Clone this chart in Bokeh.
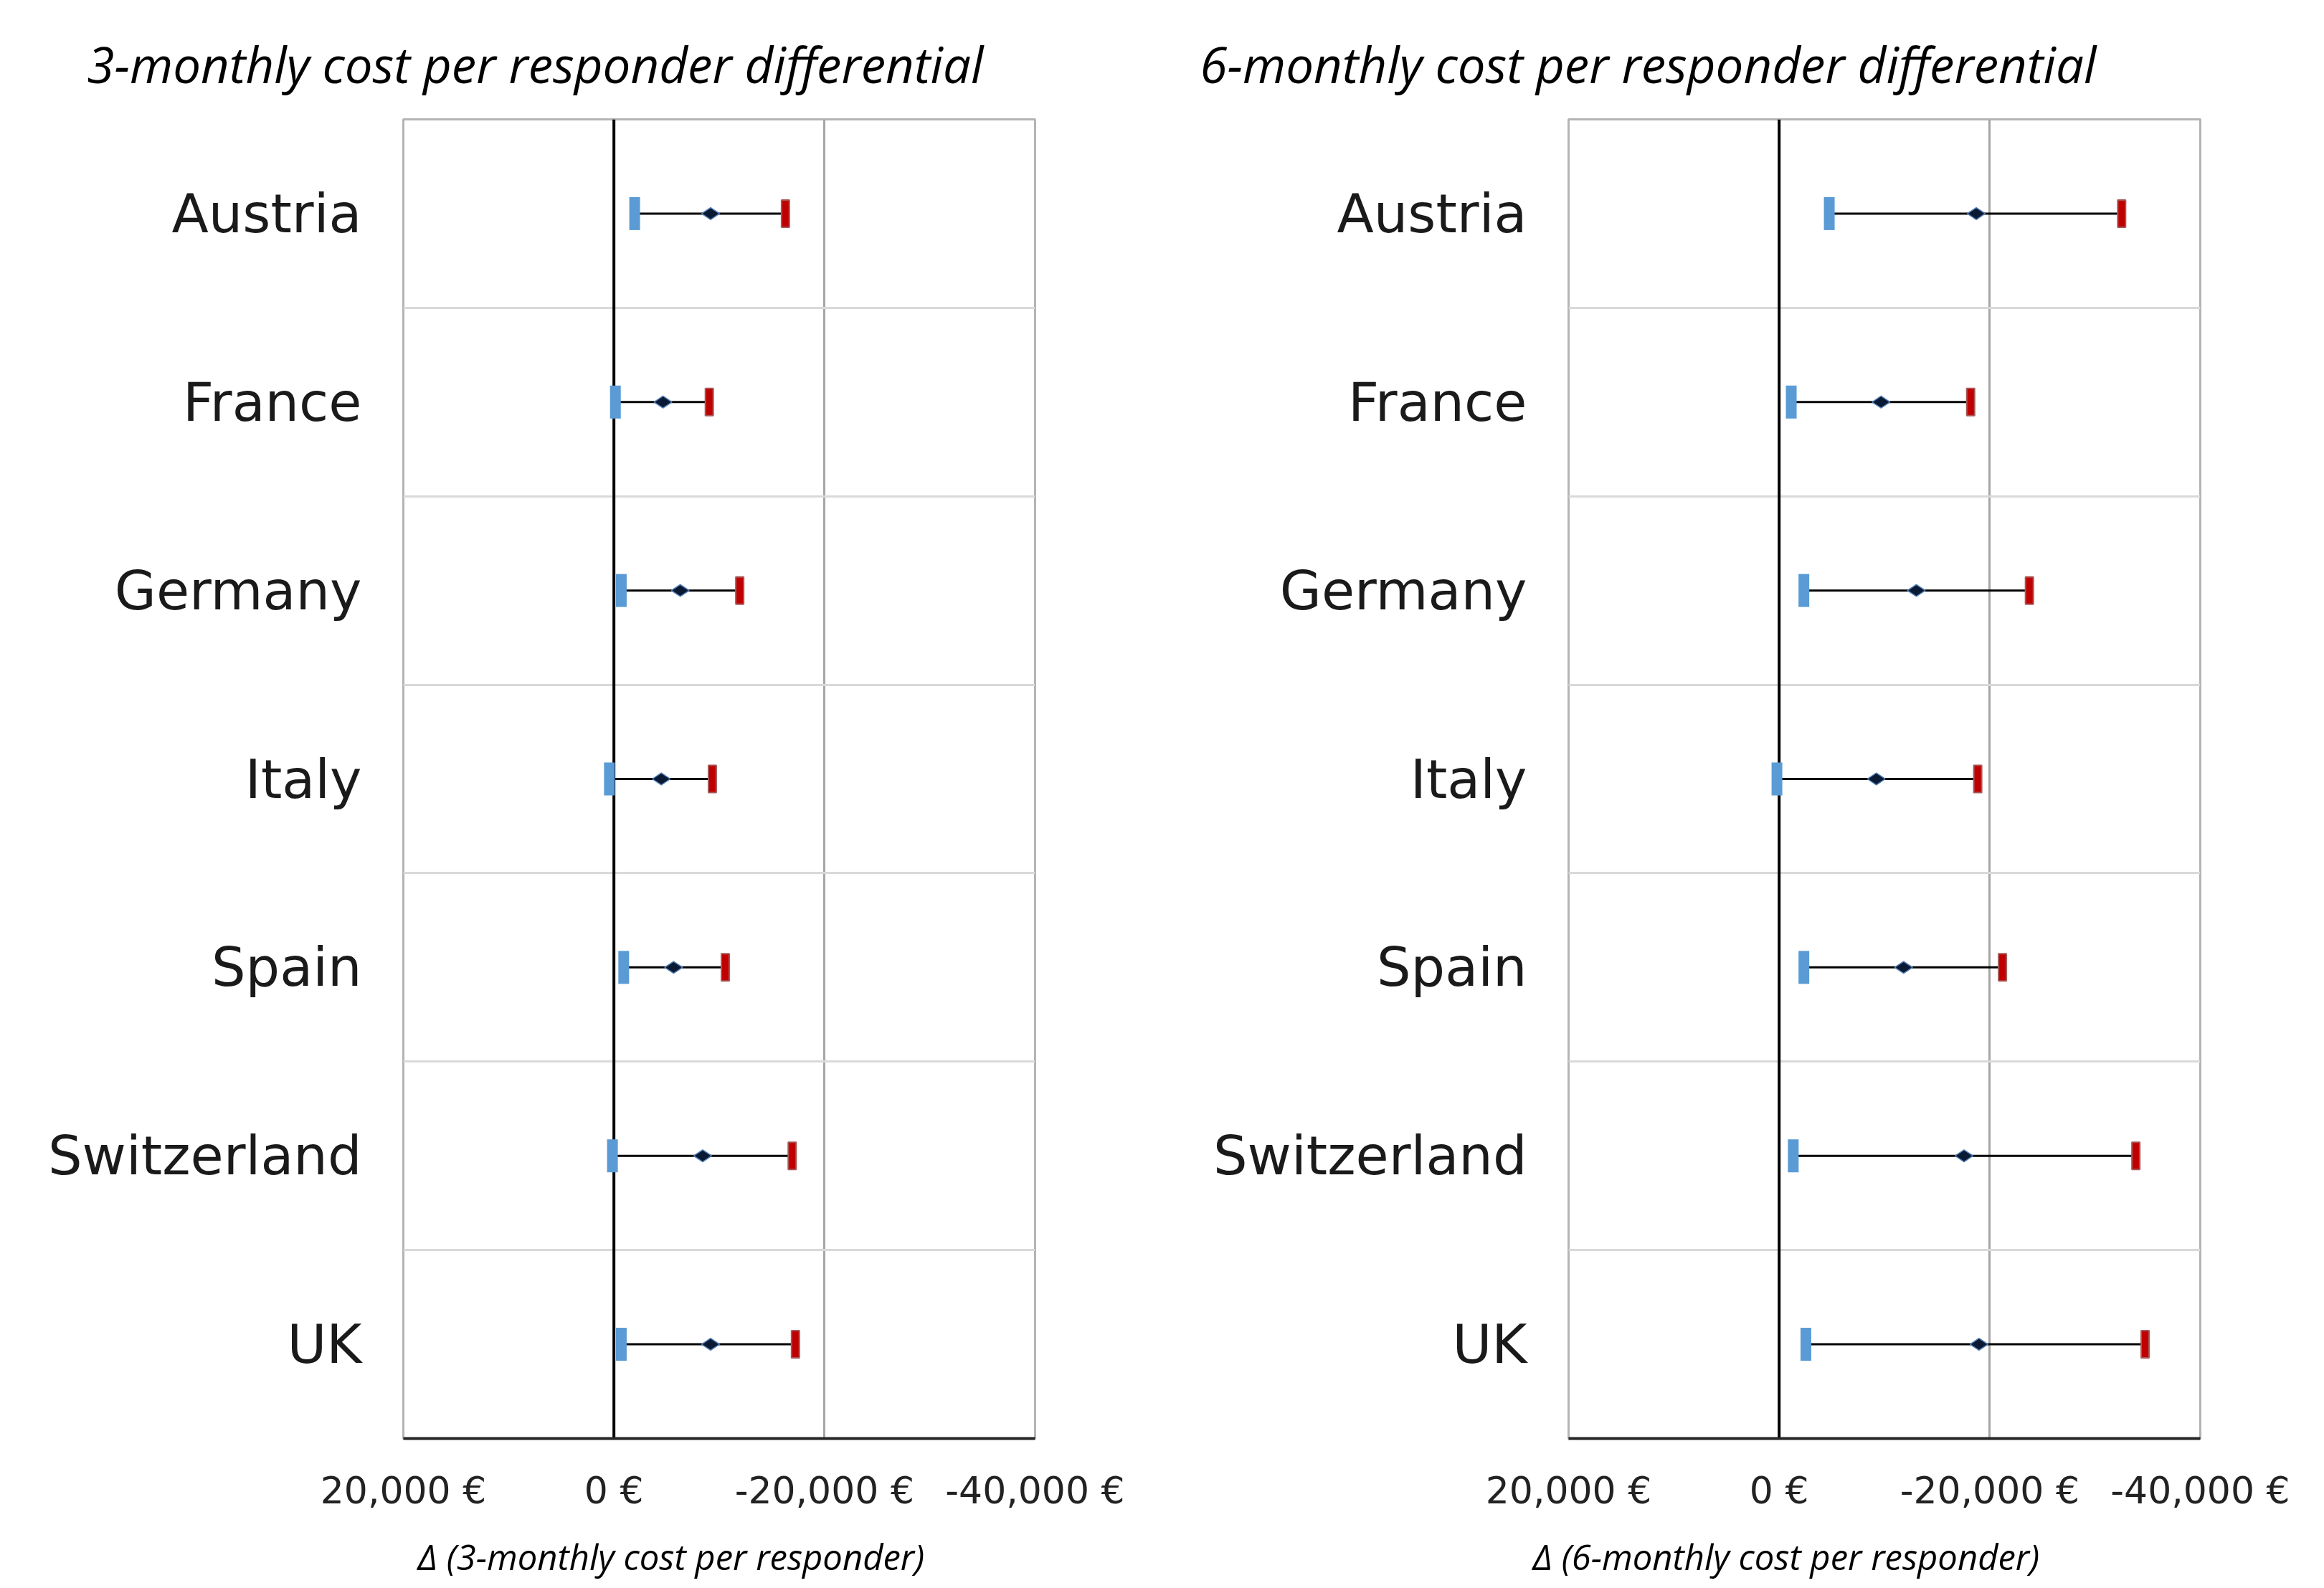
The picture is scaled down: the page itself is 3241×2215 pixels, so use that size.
from bokeh.plotting import figure
from bokeh.models import Range1d, FixedTicker, Span, Title
from bokeh.layouts import row
from bokeh.embed import file_html
from bokeh.resources import INLINE
import math

countries = ["Austria", "France", "Germany", "Italy", "Spain", "Switzerland", "UK"]

# 3-monthly cost per responder differential (EUR)
m3_low = [-1970, -140, -700, 430, -930, 140, -700]
m3_mid = [-9180, -4660, -6300, -4500, -5670, -8430, -9180]
m3_high = [-16290, -9060, -11950, -9350, -10580, -16930, -17240]

# 6-monthly cost per responder differential (EUR)
m6_low = [-4760, -1150, -2350, 210, -2350, -1340, -2540]
m6_mid = [-18720, -9680, -13030, -9230, -11820, -17560, -18980]
m6_high = [-32530, -18190, -23770, -18860, -21210, -33880, -34760]

x_ticks = [20000, 0, -20000, -40000]
x_tick_labels = ["20,000 €", "0 €", "-20,000 €", "-40,000 €"]

titles = ["3-monthly cost per responder  differential",
          "6-monthly cost per responder differential"]
x_labels = ["Δ (3-monthly cost per responder)",
            "Δ (6-monthly cost per responder)"]

FRAME_W = 881
FRAME_H = 1840
TOP = 166
BOTTOM = 209


def make_panel(title, xlabel, low, mid, high, border_left, border_right,
               title_offset, xlabel_offset):
    n = len(countries)
    ys = [i + 0.5 for i in range(n)]
    p = figure(frame_width=FRAME_W, frame_height=FRAME_H,
               x_range=Range1d(x_ticks[0], x_ticks[-1]),
               y_range=Range1d(n, 0),
               output_backend="svg", toolbar_location=None,
               min_border_left=border_left, min_border_right=border_right,
               min_border_top=TOP, min_border_bottom=BOTTOM)
    p.background_fill_color = "white"
    p.border_fill_color = "white"
    p.outline_line_color = "#b4b4b4"
    p.outline_line_width = 3

    # title
    p.title.text = title
    p.title.text_font = "Open Sans"
    p.title.text_font_style = "italic"
    p.title.text_font_size = "69px"
    p.title.text_color = "black"
    p.title.align = "left"
    p.title.offset = title_offset
    p.title.standoff = 62

    # x axis
    xa = p.xaxis[0]
    xa.ticker = FixedTicker(ticks=x_ticks)
    xa.major_label_overrides = {t: l for t, l in zip(x_ticks, x_tick_labels)}
    xa.major_label_text_font = "DejaVu Sans"
    xa.major_label_text_font_size = "52px"
    xa.major_label_text_color = "#222222"
    xa.major_label_standoff = 36
    xa.major_tick_line_color = None
    xa.minor_tick_line_color = None
    xa.axis_line_color = "#262626"
    xa.axis_line_width = 4

    # y axis (categories)
    ya = p.yaxis[0]
    ya.ticker = FixedTicker(ticks=ys)
    ya.major_label_overrides = {y: c for y, c in zip(ys, countries)}
    ya.major_label_text_font = "DejaVu Sans"
    ya.major_label_text_font_size = "75px"
    ya.major_label_text_color = "#1a1a1a"
    ya.major_label_standoff = 52
    ya.major_tick_line_color = None
    ya.minor_tick_line_color = None
    ya.axis_line_color = None

    # grids
    p.xgrid.ticker = FixedTicker(ticks=[-20000])
    p.xgrid.grid_line_color = "#a6a6a6"
    p.xgrid.grid_line_width = 3
    p.ygrid.ticker = FixedTicker(ticks=list(range(1, n)))
    p.ygrid.grid_line_color = "#d9d9d9"
    p.ygrid.grid_line_width = 3

    zero = Span(location=0, dimension="height", line_color="black",
                line_width=4, level="underlay")
    p.add_layout(zero)

    # x label below
    t = Title(text=xlabel, text_font="Open Sans", text_font_style="italic",
              text_font_size="49px", text_color="black", align="left",
              offset=xlabel_offset, standoff=48)
    p.add_layout(t, "below")

    # marks
    p.segment(x0=low, y0=ys, x1=high, y1=ys, line_color="black", line_width=3)
    p.rect(x=low, y=ys, width=15, height=46, width_units="screen",
           height_units="screen", fill_color="#5B9BD5", line_color=None)
    p.rect(x=high, y=ys, width=11, height=38, width_units="screen",
           height_units="screen", fill_color="#C00000", line_color="#a85858",
           line_width=2)
    p.scatter(x=mid, y=ys, marker="diamond", size=25, angle=math.pi / 2,
              fill_color="#0a1a35", line_color="#5580b5", line_width=1.5)
    return p


p1 = make_panel(titles[0], x_labels[0], m3_low, m3_mid, m3_high,
                border_left=562, border_right=159,
                title_offset=-441, xlabel_offset=20)
p2 = make_panel(titles[1], x_labels[1], m6_low, m6_mid, m6_high,
                border_left=585, border_right=146,
                title_offset=-514, xlabel_offset=-50)

layout = row(p1, p2)
open("out.html", "w").write(file_html(layout, INLINE))
